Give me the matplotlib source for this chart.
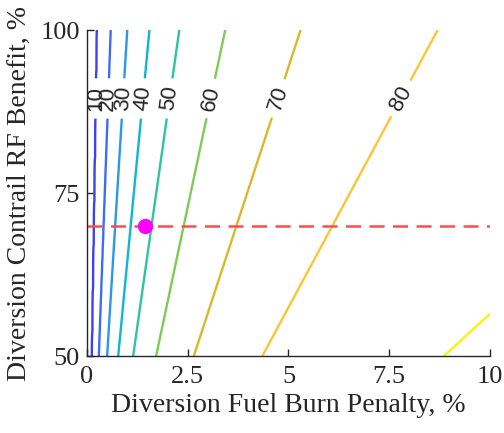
import numpy as np
import matplotlib
matplotlib.use("Agg")
import matplotlib.pyplot as plt

# Contour levels and the x/y ratio (fuel penalty / RF benefit)
levels = [10, 20, 30, 40, 50, 60, 70, 80, 90]
ratio_on_contour = [0.0025, 0.0059, 0.0100, 0.0155, 0.0229, 0.0343, 0.0530, 0.0870, 0.1770]
level_colors = ["#4040ee", "#3d6cfc", "#2a96ec", "#0fb6d3", "#2ec59c",
                "#7dcc58", "#d8b82c", "#fcc534", "#f5f511"]

# Operating point and reference line
point_x = [1.44]
point_y = [70]
ref_y = 70

xticks = [0, 2.5, 5, 7.5, 10]
xticklabels = ["0", "2.5", "5", "7.5", "10"]
yticks = [50, 75, 100]

serif = ["Liberation Serif", "DejaVu Serif"]

fig = plt.figure(figsize=(5.04, 4.33), dpi=100)
ax = fig.add_axes([0.1726, 0.1778, 0.7996, 0.7529])

x = np.linspace(0.001, 10, 600)
y = np.linspace(50, 100, 400)
X, Y = np.meshgrid(x, y)
lr = np.log([1e-6] + ratio_on_contour + [10.0])
lv = [0] + levels + [100]
Z = np.interp(np.log(X / Y), lr, lv)

cs = ax.contour(X, Y, Z, levels=levels, colors=level_colors, linewidths=1.7)
label_y = 89.5
manual = [(r * label_y, label_y) for r in ratio_on_contour[:8]]
lbls = ax.clabel(cs, levels=levels[:8], manual=manual, inline=True, fmt="%d",
                 fontsize=16, colors="#262626", inline_spacing=6)
for t in lbls:
    t.set_family(["Liberation Sans", "DejaVu Sans"])

ax.plot([0, 10], [ref_y, ref_y], color="#ff4d4d", lw=1.8, ls=(0, (6, 3.4)))
ax.plot(point_x, point_y, "o", color="#ff00ff", ms=10, zorder=5)

ax.set_xlim(0, 10)
ax.set_ylim(50, 100)
ax.set_xticks(xticks)
ax.set_xticklabels(xticklabels)
ax.set_yticks(yticks)
for s in ["top", "right"]:
    ax.spines[s].set_visible(False)
for s in ["left", "bottom"]:
    ax.spines[s].set_color("#262626")
    ax.spines[s].set_linewidth(1.0)
ax.tick_params(direction="in", length=5, width=1.0, colors="#262626",
               labelsize=19)
ax.tick_params(axis="x", pad=7)
ax.tick_params(axis="y", pad=5)
for t in ax.get_xticklabels() + ax.get_yticklabels():
    t.set_family(serif)
    t.set_color("#262626")

ax.set_xlabel("Diversion Fuel Burn Penalty, %", fontsize=20, family=serif,
              color="#262626", labelpad=4)
ax.set_ylabel("Diversion Contrail RF Benefit, %", fontsize=20, family=serif,
              color="#262626", labelpad=6)

fig.savefig("out.png", dpi=100)
